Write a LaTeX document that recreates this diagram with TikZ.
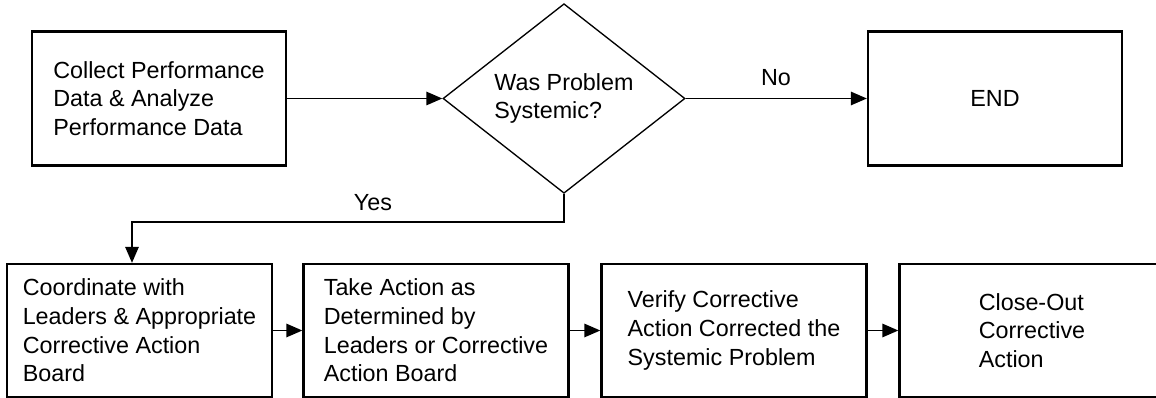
\documentclass[tikz,border=0pt]{standalone}
\usepackage{fontspec}
\setmainfont{Liberation Sans}
\usetikzlibrary{shapes.geometric,arrows.meta}

\begin{document}
\begin{tikzpicture}[x=0.75pt,y=-0.75pt,
	txt/.style={font=\fontsize{17.5}{21.5}\selectfont},
	stepbox/.style={txt, draw, line width=1.7pt, align=left, inner sep=0pt},
	topbox/.style={stepbox, minimum width=190.5pt, minimum height=100.5pt},
	botbox/.style={stepbox, minimum width=198.75pt, minimum height=99.75pt},
	question/.style={txt, draw, diamond, line width=1pt, align=left, inner sep=0pt, minimum width=181.5pt, minimum height=138pt},
	flow/.style={-{Triangle[length=12pt,width=10pt]}, line width=1.4pt}]
	\useasboundingbox (0,0) rectangle (1156,398);
	\clip (0,0) rectangle (1156,398);
	\def\topy{98.5}
	\def\boty{330.5}
	% top row
	\node [topbox] (collect) at (159, \topy) {Collect Performance\\Data \& Analyze\\Performance Data};
	\node [question] (decision) at (564, \topy) {Was Problem\\Systemic?};
	\node [topbox] (finish) at (995, \topy) {END};
	\draw [flow] (collect) -- (decision);
	\draw [flow] (decision) -- (finish);
	\node [txt] (nolbl) at (776, 78) {No};
	% bottom row
	\node [botbox] (coord) at (139.5, \boty) {Coordinate with\\Leaders \& Appropriate\\Corrective Action\\Board};
	\node [botbox] (takeact) at (436, \boty) {Take Action as\\Determined by\\Leaders or Corrective\\Action Board};
	\node [botbox] (verify) at (734, \boty) {Verify Corrective\\Action Corrected the\\Systemic Problem};
	\node [botbox] (closeout) at (1032, \boty) {Close-Out\\Corrective\\Action};
	\foreach \a/\b in {coord/takeact, takeact/verify, verify/closeout}
		\draw [flow] (\a) -- (\b);
	% yes branch
	\coordinate (yesbend) at (132, 222);
	\draw [flow] (decision.south) |- (yesbend) -- (yesbend |- coord.north);
	\node [txt] (yeslbl) at (373, 203) {Yes};
\end{tikzpicture}
\end{document}
